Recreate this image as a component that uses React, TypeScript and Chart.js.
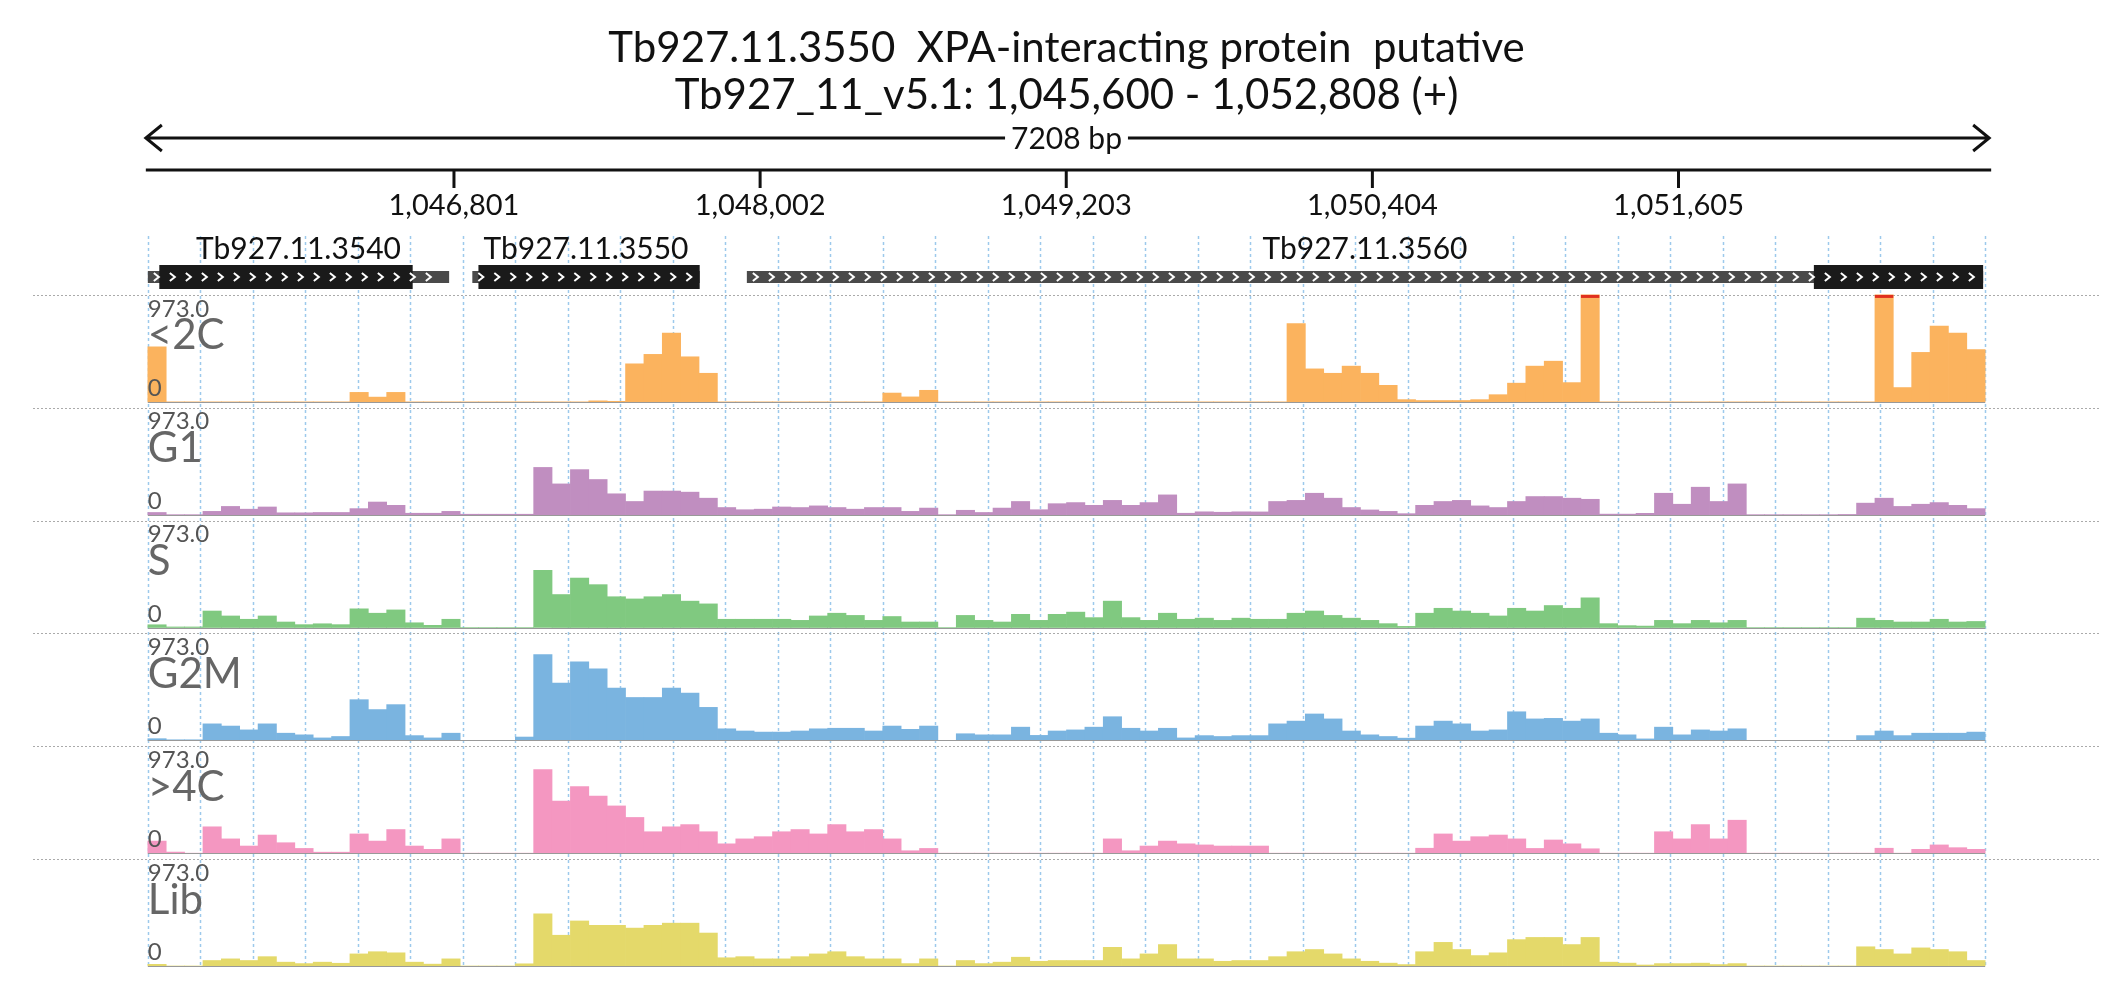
import { useEffect, useRef } from "react";
import { Chart, registerables } from "chart.js";

Chart.register(...registerables);

const START = 1045600;
const END = 1052808;
const BIN = 72.08;
const MAXV = 973;

const trackNames = ["<2C", "G1", "S", "G2M", ">4C", "Lib"];
const trackColors = ["#FBB35E", "#C08EC0", "#80C980", "#7AB4E0", "#F497C1", "#E4D96A"];

const lt2C = [
  500, 0, 0, 0, 0, 0, 0, 0, 0, 0,
  0, 86, 43, 86, 0, 0, 0, 0, 0, 0,
  0, 0, 0, 0, 9, 5, 346, 432, 626, 410,
  260, 0, 0, 0, 0, 0, 0, 0, 0, 0,
  80, 45, 105, 0, 0, 0, 0, 0, 0, 0,
  0, 0, 0, 0, 0, 0, 0, 0, 0, 0,
  0, 0, 713, 300, 260, 325, 260, 150, 20, 12,
  12, 12, 20, 65, 170, 325, 370, 175, 973, 0,
  0, 0, 0, 0, 0, 0, 0, 0, 0, 0,
  0, 0, 0, 0, 973, 130, 450, 690, 625, 475
];
const g1 = [
  20, 0, 0, 30, 75, 50, 70, 17, 17, 20,
  20, 55, 115, 85, 13, 13, 30, 4, 4, 4,
  4, 430, 280, 410, 320, 190, 120, 215, 215, 205,
  150, 65, 45, 50, 70, 65, 80, 65, 50, 65,
  65, 30, 60, 0, 40, 20, 60, 120, 45, 100,
  110, 85, 130, 85, 110, 180, 13, 26, 22, 26,
  25, 120, 130, 195, 150, 65, 43, 30, 9, 85,
  120, 130, 80, 65, 120, 165, 165, 150, 140, 5,
  5, 12, 195, 95, 250, 120, 280, 0, 0, 0,
  0, 0, 2, 105, 150, 75, 95, 110, 85, 55
];
const sPhase = [
  25, 5, 5, 150, 105, 75, 105, 50, 26, 34,
  26, 170, 130, 160, 43, 20, 75, 0, 0, 0,
  0, 520, 300, 450, 390, 280, 260, 280, 300, 240,
  215, 75, 75, 75, 75, 65, 105, 130, 110, 65,
  100, 50, 50, 0, 110, 65, 50, 120, 65, 120,
  140, 90, 240, 90, 65, 130, 75, 85, 65, 85,
  75, 75, 130, 150, 110, 85, 65, 35, 10, 130,
  175, 150, 130, 105, 175, 150, 200, 175, 270, 35,
  17, 13, 65, 35, 65, 43, 65, 0, 0, 0,
  0, 0, 0, 85, 65, 50, 50, 75, 50, 55
];
const g2m = [
  15, 5, 5, 150, 130, 95, 150, 65, 50, 22,
  35, 370, 280, 325, 43, 22, 65, 0, 0, 0,
  30, 780, 520, 715, 650, 475, 390, 390, 475, 430,
  300, 105, 85, 75, 75, 85, 105, 110, 110, 85,
  130, 100, 130, 0, 60, 50, 50, 120, 45, 85,
  95, 120, 215, 110, 85, 110, 22, 43, 35, 43,
  43, 150, 175, 240, 195, 85, 50, 35, 20, 130,
  175, 150, 85, 95, 260, 195, 200, 175, 195, 65,
  50, 13, 120, 50, 95, 85, 105, 0, 0, 0,
  0, 0, 0, 43, 85, 43, 65, 65, 65, 75
];
const gt4C = [
  110, 10, 0, 240, 130, 65, 165, 95, 43, 9,
  9, 175, 110, 215, 65, 35, 130, 0, 0, 0,
  0, 760, 475, 605, 520, 430, 325, 195, 240, 260,
  195, 85, 130, 150, 195, 215, 175, 260, 195, 215,
  130, 22, 43, 0, 0, 0, 0, 0, 0, 0,
  0, 0, 130, 22, 65, 110, 85, 75, 65, 65,
  65, 0, 0, 0, 0, 0, 0, 0, 0, 45,
  175, 110, 150, 165, 130, 43, 120, 85, 40, 0,
  0, 0, 195, 130, 260, 130, 300, 0, 0, 0,
  0, 0, 0, 0, 45, 0, 35, 75, 50, 35
];
const lib = [
  15, 0, 0, 50, 65, 50, 85, 35, 22, 35,
  25, 110, 130, 120, 35, 17, 65, 0, 0, 0,
  20, 475, 280, 410, 370, 370, 345, 370, 390, 390,
  300, 75, 85, 65, 65, 85, 110, 130, 85, 65,
  65, 22, 65, 0, 50, 22, 35, 80, 43, 50,
  50, 50, 170, 65, 110, 195, 65, 65, 43, 50,
  50, 85, 130, 150, 110, 65, 43, 26, 13, 130,
  215, 150, 95, 120, 240, 260, 260, 195, 260, 35,
  26, 9, 22, 22, 26, 13, 22, 0, 0, 0,
  0, 0, 0, 175, 150, 110, 165, 150, 130, 50
];
const tracks = [lt2C, g1, sPhase, g2m, gt4C, lib];

const rulerTicks = [1046801, 1048002, 1049203, 1050404, 1051605];

const geneNames = ["Tb927.11.3540", "Tb927.11.3550", "Tb927.11.3560"];
const geneTxStart = [1045600, 1046873, 1047950];
const geneTxEnd = [1046782, 1047765, 1052800];
const geneCdsStart = [1045645, 1046897, 1052136];
const geneCdsEnd = [1046639, 1047765, 1052800];

const titleLine1 = "Tb927.11.3550  XPA-interacting protein  putative";
const titleLine2 = "Tb927_11_v5.1: 1,045,600 - 1,052,808 (+)";
const spanLabel = "7208 bp";

const FONT = "Lato, 'Open Sans', sans-serif";

// each track band: 1/6 of the plot height, data range 0..973 filling the lower 106.9/112.8 of it
const BAND_FILL = 106.9 / 112.83;

const browserPlugin = {
  id: "browser",
  beforeDatasetsDraw(chart: any) {
    const ctx = chart.ctx;
    const x = chart.scales.x;
    const bottom = chart.scales["y5"].getPixelForValue(0);
    ctx.save();
    ctx.strokeStyle = "#9DC9EC";
    ctx.lineWidth = 1.5;
    ctx.setLineDash([3, 3]);
    for (let k = 0; k <= 35; k++) {
      const px = Math.round(x.getPixelForValue(START + (k * (END - START)) / 35)) + 0.5;
      ctx.beginPath();
      ctx.moveTo(px, 236);
      ctx.lineTo(px, bottom);
      ctx.stroke();
    }
    ctx.strokeStyle = "#AAAAAA";
    ctx.lineWidth = 1;
    ctx.setLineDash([2, 2]);
    for (let t = 0; t < tracks.length; t++) {
      const ys = chart.scales["y" + t];
      const top = Math.round(ys.getPixelForValue(MAXV)) + 0.5;
      ctx.beginPath();
      ctx.moveTo(x.left, top);
      ctx.lineTo(x.right, top);
      ctx.stroke();
    }
    ctx.restore();
  },
  afterDatasetsDraw(chart: any) {
    const ctx = chart.ctx;
    const x = chart.scales.x;
    const left = x.getPixelForValue(START);
    const right = x.getPixelForValue(END);
    ctx.save();
    for (let t = 0; t < tracks.length; t++) {
      const ys = chart.scales["y" + t];
      const b = Math.round(ys.getPixelForValue(0)) + 0.5;
      ctx.strokeStyle = "#999999";
      ctx.lineWidth = 1.2;
      ctx.beginPath();
      ctx.moveTo(left, b);
      ctx.lineTo(right, b);
      ctx.stroke();
      const top = ys.getPixelForValue(MAXV);
      ctx.fillStyle = "#555555";
      ctx.textAlign = "left";
      ctx.textBaseline = "top";
      ctx.font = `24px ${FONT}`;
      ctx.fillText("973.0", left, top + 2);
      ctx.textBaseline = "bottom";
      ctx.fillText("0", left, b - 2);
      ctx.fillStyle = "#666666";
      ctx.font = `42px ${FONT}`;
      ctx.textBaseline = "top";
      ctx.fillText(trackNames[t], left, top + 20);
      const meta = chart.getDatasetMeta(t);
      meta.data.forEach((bar: any, i: number) => {
        if (tracks[t][i] >= MAXV) {
          ctx.fillStyle = "#E0301E";
          ctx.fillRect(bar.x - bar.width / 2, bar.y, bar.width, 3);
        }
      });
    }

    ctx.fillStyle = "#111111";
    ctx.textAlign = "center";
    ctx.textBaseline = "middle";
    ctx.font = `42px ${FONT}`;
    const cx = (left + right) / 2;
    ctx.fillText(titleLine1, cx, 48);
    ctx.fillText(titleLine2, cx, 95);

    ctx.strokeStyle = "#111111";
    ctx.lineWidth = 3;
    ctx.beginPath();
    ctx.moveTo(left - 2, 138);
    ctx.lineTo(right + 4, 138);
    ctx.moveTo(left + 14, 125);
    ctx.lineTo(left - 2, 138);
    ctx.lineTo(left + 14, 151);
    ctx.moveTo(right - 12, 125);
    ctx.lineTo(right + 4, 138);
    ctx.lineTo(right - 12, 151);
    ctx.stroke();
    ctx.font = `30px ${FONT}`;
    const w = ctx.measureText(spanLabel).width;
    ctx.fillStyle = "#ffffff";
    ctx.fillRect(cx - w / 2 - 6, 122, w + 12, 32);
    ctx.fillStyle = "#111111";
    ctx.fillText(spanLabel, cx, 139);

    ctx.beginPath();
    ctx.moveTo(left - 2, 170);
    ctx.lineTo(right + 6, 170);
    ctx.stroke();
    ctx.font = `29px ${FONT}`;
    rulerTicks.forEach((v) => {
      const px = x.getPixelForValue(v);
      ctx.beginPath();
      ctx.moveTo(px, 170);
      ctx.lineTo(px, 188);
      ctx.stroke();
      ctx.fillText(v.toLocaleString("en-US"), px, 206);
    });

    const gy = 277;
    for (let g = 0; g < geneNames.length; g++) {
      const tx0 = x.getPixelForValue(geneTxStart[g]);
      const tx1 = x.getPixelForValue(geneTxEnd[g]);
      const c0 = x.getPixelForValue(geneCdsStart[g]);
      const c1 = x.getPixelForValue(geneCdsEnd[g]);
      ctx.fillStyle = "#4A4A4A";
      ctx.fillRect(tx0, gy - 6, tx1 - tx0, 12);
      ctx.fillStyle = "#1A1A1A";
      ctx.fillRect(c0, gy - 12, c1 - c0, 24);
      ctx.strokeStyle = "#ffffff";
      ctx.lineWidth = 2;
      for (let p = tx0 + 6; p < tx1 - 8; p += 16) {
        ctx.beginPath();
        ctx.moveTo(p, gy - 4);
        ctx.lineTo(p + 5, gy);
        ctx.lineTo(p, gy + 4);
        ctx.stroke();
      }
      ctx.fillStyle = "#111111";
      ctx.font = `30px ${FONT}`;
      ctx.textAlign = "center";
      ctx.textBaseline = "middle";
      ctx.fillText(geneNames[g], (tx0 + tx1) / 2, 249);
    }
    ctx.restore();
  }
};

export default function App() {
  const canvasRef = useRef<HTMLCanvasElement | null>(null);

  useEffect(() => {
    document.body.style.margin = "0";
    if (!canvasRef.current) return;
    const ctx = canvasRef.current.getContext("2d");
    if (!ctx) return;

    const n = tracks.length;
    const span = MAXV / (BAND_FILL / n);
    const scales: any = {
      x: { type: "linear", min: START, max: END, display: false }
    };
    tracks.forEach((_, t) => {
      const fromBottom = n - 1 - t;
      const min = (-span * fromBottom) / n;
      scales["y" + t] = {
        type: "linear",
        display: false,
        min,
        max: min + span
      };
    });

    const chart = new Chart(ctx, {
      type: "bar",
      data: {
        datasets: tracks.map((vals, t) => ({
          label: trackNames[t],
          data: vals.map((v, i) => ({ x: START + (i + 0.5) * BIN, y: v })),
          xAxisID: "x",
          yAxisID: "y" + t,
          backgroundColor: trackColors[t],
          borderWidth: 0,
          barPercentage: 1,
          categoryPercentage: 1,
          grouped: false
        }))
      },
      options: {
        animation: false,
        responsive: true,
        maintainAspectRatio: false,
        layout: { padding: { top: 289, bottom: 34, left: 33, right: 26 } },
        plugins: { legend: { display: false }, tooltip: { enabled: false } },
        scales
      },
      plugins: [browserPlugin]
    } as any);

    return () => chart.destroy();
  }, []);

  return (
    <div style={{ width: 2126, height: 1000, background: "#fff", position: "relative" }}>
      <canvas ref={canvasRef} />
    </div>
  );
}
